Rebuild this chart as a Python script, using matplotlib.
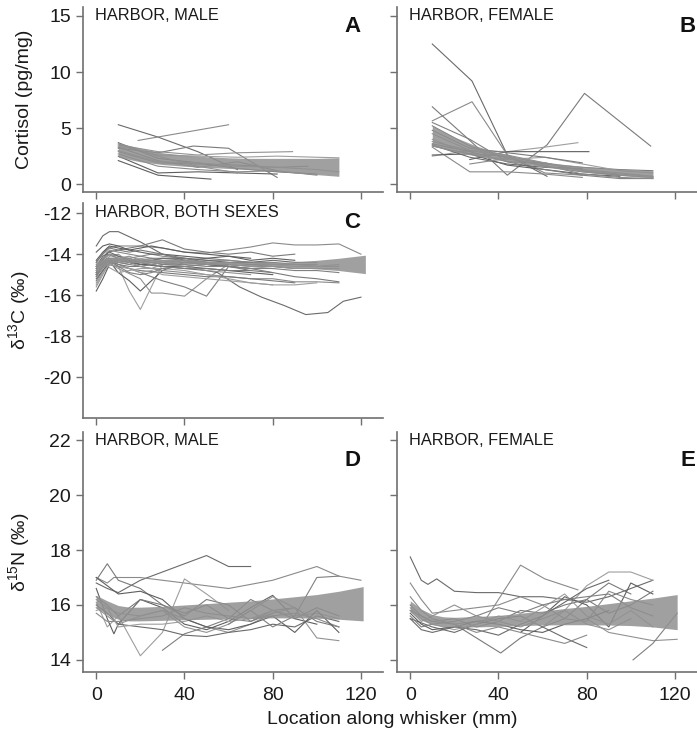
import matplotlib
matplotlib.use('Agg')
import matplotlib.pyplot as plt

plt.rcParams['font.family'] = ['Liberation Sans', 'DejaVu Sans']
plt.rcParams['mathtext.fontset'] = 'custom'
plt.rcParams['mathtext.rm'] = 'Liberation Sans'
plt.rcParams['axes.unicode_minus'] = False

# ---- panel A: cortisol, harbor males (one line per whisker)
a_lines = [
    ([10, 28, 46, 64], [5.3, 4.2, 2.9, 1.3]),
    ([19, 60], [3.9, 5.3]),
    ([10, 28, 44, 60, 82], [3.2, 2.8, 3.4, 3.2, 0.6]),
    ([10, 28, 46, 64, 82, 100, 110], [3.4, 2.6, 2.5, 2.4, 2.5, 2.4, 2.35]),
    ([10, 28, 52], [2.1, 0.8, 0.45]),
    ([10, 28, 46, 64, 89], [3.5, 2.9, 2.6, 2.8, 2.9]),
    ([10, 28, 46, 64, 82, 96], [2.9, 1.9, 1.8, 1.7, 1.5, 1.6]),
    ([10, 28, 46, 64, 82, 100], [3.7, 2.3, 1.9, 1.4, 1.1, 0.9]),
    ([10, 28, 46, 64, 82, 100], [2.7, 1.6, 1.3, 1.1, 1.2, 0.8]),
    ([10, 28, 46, 64, 82], [3.3, 2.1, 1.5, 2.0, 1.2]),
    ([10, 28, 46, 64, 82, 100, 110], [3.0, 2.0, 1.9, 1.6, 1.5, 1.3, 1.1]),
    ([10, 28, 46, 64, 82], [2.5, 1.0, 1.1, 1.0, 0.9]),
    ([10, 28, 46, 64], [3.6, 2.5, 1.6, 1.0]),
]
a_band_x = [10, 20, 30, 40, 50, 60, 70, 80, 90, 100, 110]
a_band_hi = [3.7, 3.2, 2.8, 2.6, 2.45, 2.35, 2.3, 2.3, 2.3, 2.3, 2.35]
a_band_lo = [2.4, 2.0, 1.75, 1.6, 1.5, 1.4, 1.3, 1.15, 1.0, 0.85, 0.7]

# ---- panel B: cortisol, harbor females
b_lines = [
    ([10, 28, 44, 62], [12.5, 9.2, 2.6, 0.7]),
    ([10, 28, 44, 61, 78], [5.65, 7.35, 2.6, 1.0, 0.8]),
    ([10, 27, 44, 62, 79, 109], [6.9, 3.9, 0.8, 3.5, 8.1, 3.4]),
    ([10, 27, 44, 61, 76], [2.5, 3.0, 2.9, 3.3, 3.7]),
    ([27, 44, 61, 81], [2.2, 2.9, 2.9, 2.9]),
    ([10, 27, 44, 61, 78, 95, 110], [4.5, 3.0, 2.4, 1.6, 1.3, 1.0, 0.7]),
    ([10, 27, 44, 61, 78, 95, 110], [5.2, 3.4, 2.3, 1.6, 1.1, 0.8, 0.6]),
    ([10, 27, 44, 61, 78, 95], [3.6, 2.9, 2.0, 1.9, 1.2, 0.8]),
    ([10, 27, 44, 61, 78], [3.3, 1.1, 1.1, 0.9, 0.6]),
    ([10, 27, 44, 61, 78, 95, 110], [3.4, 2.7, 2.5, 1.8, 1.5, 1.3, 1.2]),
    ([10, 27, 44, 61, 78, 95, 110], [4.0, 2.7, 2.2, 2.4, 1.8, 1.2, 1.0]),
    ([10, 27, 44, 61, 78, 95], [2.6, 2.7, 1.7, 1.3, 0.9, 0.7]),
    ([10, 27, 44, 61, 78, 95, 110], [3.8, 3.0, 2.6, 1.9, 1.2, 0.9, 0.7]),
    ([10, 27, 44, 61, 78, 95, 110], [5.5, 4.0, 2.0, 1.3, 0.8, 0.5, 0.5]),
    ([10, 27, 44, 61, 78], [3.5, 2.4, 1.8, 1.5, 1.4]),
    ([27, 44, 61, 78, 95, 110], [1.8, 2.3, 1.7, 0.9, 0.6, 0.5]),
    ([10, 27, 44, 61, 78], [4.8, 3.2, 2.8, 2.4, 1.9]),
]
b_band_x = [10, 20, 30, 40, 50, 60, 70, 80, 90, 100, 110]
b_band_hi = [5.2, 4.2, 3.4, 2.8, 2.35, 2.0, 1.75, 1.55, 1.4, 1.3, 1.2]
b_band_lo = [3.4, 2.9, 2.5, 2.15, 1.85, 1.55, 1.3, 1.05, 0.85, 0.7, 0.55]

# ---- panel C: d13C, harbor, both sexes
c_x = [0, 3, 6, 10, 15, 20, 25, 30, 40, 50, 60, 70, 80, 90, 100, 110]
c_lines = [
    ([0, 3, 6, 10, 20, 30, 40, 50, 60], [-13.6, -13.1, -12.9, -12.9, -13.4, -14.0, -14.3, -14.5, -14.6]),
    ([0, 5, 10, 20, 30, 40, 50, 60, 70, 80, 90, 100, 110, 120],
     [-14.4, -13.7, -13.6, -13.6, -13.7, -13.9, -13.95, -13.8, -13.65, -13.45, -13.55, -13.55, -13.5, -14.0]),
    ([0, 5, 10, 20, 30, 40, 50, 60, 70, 80, 90],
     [-14.8, -13.9, -13.8, -13.6, -13.3, -13.75, -13.9, -14.0, -13.9, -14.1, -14.0]),
    ([0, 5, 10, 15, 20, 25, 30, 40, 50, 60, 70, 80],
     [-15.0, -14.3, -14.6, -15.8, -16.7, -15.6, -14.5, -14.3, -14.4, -14.5, -14.6, -14.7]),
    ([0, 5, 10, 15, 20, 30, 40, 50, 60, 70], [-14.7, -14.2, -14.9, -15.3, -15.8, -14.8, -14.4, -14.5, -14.6, -14.7]),
    ([0, 5, 10, 20, 25, 30, 40, 50, 60], [-15.0, -14.4, -14.7, -15.2, -15.9, -15.9, -16.05, -15.2, -14.5]),
    ([0, 5, 10, 20, 30, 40, 50, 60, 70, 80], [-14.9, -14.3, -14.5, -14.9, -15.3, -15.6, -16.05, -14.6, -14.7, -14.9]),
    ([0, 5, 10, 20, 30, 40, 50, 55, 65, 75, 85, 95, 105, 112, 120],
     [-14.6, -14.0, -14.2, -14.5, -14.6, -14.7, -14.8, -14.9, -15.6, -16.1, -16.5, -16.95, -16.85, -16.3, -16.1]),
    ([0, 5, 10, 20, 30, 40, 50, 60, 70, 80, 90, 100, 110],
     [-14.9, -14.2, -14.4, -14.6, -14.8, -14.9, -15.0, -15.1, -15.2, -15.2, -15.35, -15.35, -15.4]),
    ([0, 5, 10, 20, 30, 40, 50, 60, 70, 80, 90],
     [-15.3, -14.5, -14.6, -14.8, -14.9, -15.0, -15.1, -15.1, -15.2, -15.3, -15.4]),
    ([0, 5, 10, 20, 30, 40, 50, 60, 70, 80, 90, 100],
     [-15.6, -14.6, -14.9, -14.7, -14.7, -14.8, -15.0, -15.2, -15.4, -15.5, -15.5, -15.4]),
    (c_x[:13], [-15.8, -15.2, -14.5, -14.3, -14.4, -14.5, -14.5, -14.6, -14.6, -14.7, -14.8, -14.9, -15.0]),
    (c_x, [-15.0, -14.6, -14.2, -14.2, -14.3, -14.3, -14.2, -14.3, -14.3, -14.4, -14.4, -14.5, -14.5, -14.5, -14.6, -14.6]),
    (c_x[:15], [-14.7, -14.3, -14.0, -14.1, -14.2, -14.1, -14.2, -14.2, -14.3, -14.2, -14.3, -14.4, -14.4, -14.5, -14.5]),
    (c_x[:14], [-15.2, -14.8, -14.4, -14.3, -14.4, -14.5, -14.4, -14.5, -14.4, -14.5, -14.6, -14.5, -14.6, -14.7]),
    (c_x[:13], [-14.5, -14.2, -13.8, -13.9, -14.0, -14.1, -14.0, -14.1, -14.2, -14.3, -14.3, -14.4, -14.5]),
    (c_x[:12], [-14.9, -14.4, -14.3, -14.5, -14.6, -14.6, -14.5, -14.6, -14.7, -14.7, -14.8, -14.8]),
    (c_x, [-15.4, -14.9, -14.5, -14.2, -14.3, -14.2, -14.3, -14.4, -14.3, -14.4, -14.5, -14.4, -14.5, -14.6, -14.6, -14.5]),
    (c_x[:14], [-14.3, -13.9, -13.6, -13.7, -13.8, -13.9, -14.0, -14.0, -14.1, -14.2, -14.1, -14.3, -14.2, -14.3]),
    (c_x[:12], [-14.8, -14.5, -14.1, -14.0, -14.4, -14.6, -14.7, -14.5, -14.6, -14.8, -14.9, -15.0]),
    (c_x, [-15.0, -14.6, -14.3, -14.4, -14.5, -14.3, -14.4, -14.5, -14.5, -14.6, -14.6, -14.7, -14.7, -14.8, -14.8, -14.9]),
    (c_x[:15], [-14.6, -14.1, -13.9, -14.1, -14.3, -14.4, -14.3, -14.2, -14.2, -14.3, -14.4, -14.4, -14.3, -14.4, -14.4]),
    (c_x[:10], [-15.1, -14.7, -14.2, -14.3, -14.2, -14.4, -14.5, -14.4, -14.3, -14.5]),
    (c_x, [-14.4, -14.0, -13.7, -13.8, -13.9, -13.8, -13.9, -14.0, -14.2, -14.4, -14.6, -14.8, -14.9, -15.1, -15.2, -15.35]),
    (c_x[:13], [-15.5, -14.9, -14.5, -14.6, -14.7, -14.9, -14.8, -15.0, -15.1, -15.2, -15.3, -15.4, -15.5]),
    (c_x[:12], [-13.9, -13.6, -13.5, -13.6, -13.8, -13.7, -13.6, -13.7, -13.9, -14.0, -14.1, -14.2]),
    (c_x, [-14.6, -14.2, -14.0, -14.2, -14.1, -14.3, -14.3, -14.4, -14.6, -14.5, -14.5, -14.6, -14.6, -14.7, -14.7, -14.7]),
    (c_x[:11], [-15.1, -14.5, -14.3, -14.6, -14.9, -15.0, -14.9, -14.7, -14.6, -14.5, -14.5]),
]
c_band_x = [0, 3, 6, 10, 15, 20, 30, 40, 50, 60, 70, 80, 90, 100, 110, 122]
c_band_hi = [-14.4, -14.25, -14.15, -14.15, -14.2, -14.22, -14.26, -14.3, -14.33, -14.36, -14.38, -14.4, -14.38, -14.3, -14.2, -14.05]
c_band_lo = [-14.9, -14.65, -14.45, -14.4, -14.4, -14.42, -14.44, -14.47, -14.5, -14.53, -14.57, -14.6, -14.65, -14.72, -14.8, -14.95]

# ---- panel D: d15N, harbor males
d_x = [0, 5, 10, 20, 30, 40, 50, 60, 70, 80, 90, 100, 110]
d_lines = [
    ([0, 5, 10, 20, 30, 40, 50, 60, 70], [16.8, 16.6, 16.45, 16.9, 17.2, 17.5, 17.8, 17.4, 17.4]),
    ([0, 5, 8, 20, 40, 60, 80, 90, 100, 110, 120], [17.0, 16.8, 17.0, 17.0, 16.8, 16.6, 16.9, 17.15, 17.4, 17.05, 16.9]),
    (d_x, [16.9, 17.5, 16.9, 16.6, 16.0, 15.6, 16.2, 16.0, 15.4, 15.8, 15.9, 15.4, 15.2]),
    ([0, 5, 10, 20, 30, 40, 50, 60], [16.1, 15.2, 15.6, 14.15, 15.0, 16.95, 16.4, 15.8]),
    ([0, 5, 8, 10, 20, 30, 40, 50, 60, 70, 80, 90, 100],
     [16.6, 15.5, 14.95, 15.3, 16.2, 15.9, 15.3, 15.1, 15.4, 15.9, 16.35, 15.5, 15.3]),
    ([0, 10, 20, 30, 40, 50, 60, 70, 80, 90, 100, 110], [15.9, 15.3, 15.6, 15.8, 15.5, 15.2, 15.0, 15.3, 15.7, 15.9, 14.8, 14.7]),
    ([30, 40, 50, 60, 70, 80], [14.35, 14.95, 15.2, 15.5, 15.4, 15.7]),
    (d_x, [16.0, 15.7, 15.3, 15.2, 15.1, 14.9, 14.85, 15.0, 15.1, 15.3, 15.2, 15.6, 15.4]),
    (d_x, [15.7, 15.4, 15.4, 15.5, 15.6, 15.9, 15.7, 15.6, 15.5, 15.6, 15.7, 15.5, 15.2]),
    (d_x, [16.3, 16.0, 15.6, 16.2, 16.0, 15.7, 16.0, 15.5, 16.2, 15.8, 15.5, 15.9, 15.6]),
    (d_x, [15.8, 15.9, 15.2, 15.3, 15.3, 15.4, 15.6, 15.4, 15.5, 15.8, 15.6, 15.7, 15.5]),
    (d_x, [17.0, 16.7, 16.4, 16.5, 16.2, 15.5, 15.2, 15.1, 15.3, 15.6, 15.0, 15.8, 15.0]),
    (d_x[:11], [16.2, 15.9, 15.7, 15.6, 15.8, 15.2, 15.0, 15.3, 15.8, 16.3, 15.9]),
    ([60, 70, 80, 90, 100, 110], [15.3, 15.8, 15.2, 15.6, 17.0, 17.05]),
]
d_band_x = [0, 5, 10, 15, 20, 30, 40, 50, 60, 70, 80, 90, 100, 110, 121]
d_band_hi = [16.35, 16.15, 15.98, 15.92, 15.92, 15.95, 16.0, 16.05, 16.1, 16.15, 16.22, 16.3, 16.38, 16.5, 16.67]
d_band_lo = [15.9, 15.65, 15.48, 15.42, 15.42, 15.44, 15.46, 15.48, 15.5, 15.52, 15.53, 15.53, 15.52, 15.48, 15.42]

# ---- panel E: d15N, harbor females
e_x = [0, 5, 10, 20, 30, 40, 50, 60, 70, 80, 90, 100, 110]
e_lines = [
    ([0, 5, 8, 12, 20, 30, 40, 50, 60, 70, 80, 90, 100, 110],
     [17.75, 16.9, 16.75, 16.95, 16.5, 16.45, 16.45, 16.3, 16.3, 16.2, 16.1, 16.3, 16.6, 16.9]),
    ([20, 34, 50, 61, 76], [15.3, 15.45, 17.45, 16.95, 16.55]),
    ([0, 10, 20, 30, 41, 50, 60, 70, 80, 90, 100], [15.8, 15.4, 15.3, 14.8, 14.25, 14.8, 15.2, 15.5, 16.2, 16.8, 16.4]),
    ([60, 70, 80, 90, 100, 110], [15.2, 15.8, 16.7, 17.2, 17.2, 16.9]),
    ([50, 60, 70, 80, 90, 100, 110], [15.0, 15.6, 16.3, 16.0, 15.2, 16.8, 16.4]),
    ([80, 90, 100, 110, 121], [15.5, 15.0, 14.85, 14.7, 14.75]),
    ([101, 110, 121], [14.0, 14.6, 15.7]),
    ([0, 10, 20, 30, 40, 50, 60, 70, 80], [15.5, 15.2, 15.0, 15.3, 15.5, 15.6, 15.2, 14.8, 14.45]),
    (e_x, [16.8, 16.2, 15.7, 15.8, 15.9, 16.0, 16.3, 16.0, 15.5, 15.4, 16.5, 16.2, 16.0]),
    (e_x, [16.0, 15.6, 15.4, 15.5, 15.2, 15.4, 15.8, 15.7, 16.0, 16.2, 15.7, 16.0, 16.5]),
    (e_x, [15.9, 15.5, 15.3, 15.1, 15.3, 15.6, 15.4, 15.9, 16.4, 15.6, 15.3, 15.8, 15.2]),
    (e_x[:11], [15.7, 15.3, 15.1, 15.2, 15.4, 15.3, 15.1, 15.0, 15.3, 15.5, 15.8]),
    (e_x[:12], [15.8, 15.4, 15.6, 16.0, 15.6, 15.4, 15.2, 15.5, 15.8, 15.3, 15.1, 15.5]),
    (e_x, [15.6, 15.2, 15.3, 15.4, 15.6, 15.9, 15.7, 16.0, 16.2, 16.3, 16.4, 15.9, 15.6]),
    (e_x[:11], [15.5, 15.1, 15.0, 15.2, 15.1, 14.9, 15.3, 15.6, 16.1, 16.6, 16.9]),
    (e_x[:10], [16.3, 15.8, 15.5, 15.3, 15.0, 15.2, 15.0, 14.8, 14.6, 14.9]),
]
e_band_x = [0, 5, 10, 15, 20, 30, 40, 50, 60, 70, 80, 90, 100, 110, 121]
e_band_hi = [16.15, 15.85, 15.65, 15.57, 15.55, 15.58, 15.62, 15.7, 15.78, 15.87, 15.95, 16.05, 16.15, 16.25, 16.38]
e_band_lo = [15.75, 15.45, 15.28, 15.22, 15.2, 15.2, 15.22, 15.25, 15.27, 15.28, 15.28, 15.27, 15.25, 15.2, 15.1]

greys = ['#6a6a6a', '#8a8a8a', '#7a7a7a', '#9e9e9e', '#5e5e5e', '#929292', '#808080']
spine_col = '#707070'

fig = plt.figure(figsize=(6.97, 7.32), dpi=100)
W = 0.4304
axA = fig.add_axes([0.1191, 0.7377, W, 0.2527])
axB = fig.add_axes([0.5696, 0.7377, W, 0.2527])
axC = fig.add_axes([0.1191, 0.4290, W, 0.2937])
axD = fig.add_axes([0.1191, 0.0820, W, 0.3279])
axE = fig.add_axes([0.5696, 0.0820, W, 0.3279])


def draw(ax, lines, bx, blo, bhi):
    for i, (x, y) in enumerate(lines):
        ax.plot(x, y, color=greys[i % len(greys)], lw=0.8, zorder=2)
    ax.fill_between(bx, blo, bhi, color='#909090', lw=0, alpha=0.85, zorder=3)


def style(ax, ylim, yticks, ylabels, xlabels):
    ax.set_xlim(-6, 130)
    ax.set_ylim(*ylim)
    ax.set_xticks([0, 40, 80, 120])
    ax.set_yticks(yticks)
    for s in ['top', 'right']:
        ax.spines[s].set_visible(False)
    for s in ['left', 'bottom']:
        ax.spines[s].set_color(spine_col)
        ax.spines[s].set_linewidth(1.2)
    ax.tick_params(direction='out', length=5, width=1, color=spine_col,
                   labelsize=14, labelcolor='#1a1a1a')
    ax.tick_params(axis='x', pad=6)
    if not ylabels:
        ax.set_yticklabels([])
    if not xlabels:
        ax.set_xticklabels([])


draw(axA, a_lines, a_band_x, a_band_lo, a_band_hi)
draw(axB, b_lines, b_band_x, b_band_lo, b_band_hi)
draw(axC, c_lines, c_band_x, c_band_lo, c_band_hi)
draw(axD, d_lines, d_band_x, d_band_lo, d_band_hi)
draw(axE, e_lines, e_band_x, e_band_lo, e_band_hi)

style(axA, (-0.7, 15.8), [0, 5, 10, 15], True, False)
style(axB, (-0.7, 15.8), [0, 5, 10, 15], False, False)
style(axC, (-22, -11.5), [-20, -18, -16, -14, -12], True, False)
style(axD, (13.56, 22.3), [14, 16, 18, 20, 22], True, True)
style(axE, (13.56, 22.3), [14, 16, 18, 20, 22], False, True)

# panel titles and letters
tkw = dict(fontsize=11.8, color='#1a1a1a', va='center', ha='left')
axA.text(0.04, 0.955, 'HARBOR, MALE', transform=axA.transAxes, **tkw)
axB.text(0.04, 0.955, 'HARBOR, FEMALE', transform=axB.transAxes, **tkw)
axC.text(0.04, 0.955, 'HARBOR, BOTH SEXES', transform=axC.transAxes, **tkw)
axD.text(0.04, 0.965, 'HARBOR, MALE', transform=axD.transAxes, **tkw)
axE.text(0.04, 0.965, 'HARBOR, FEMALE', transform=axE.transAxes, **tkw)

lkw = dict(fontsize=16, fontweight='bold', color='#111111', va='center', ha='center')
axA.text(0.897, 0.897, 'A', transform=axA.transAxes, **lkw)
axB.text(0.97, 0.897, 'B', transform=axB.transAxes, **lkw)
axC.text(0.897, 0.907, 'C', transform=axC.transAxes, **lkw)
axD.text(0.897, 0.883, 'D', transform=axD.transAxes, **lkw)
axE.text(0.97, 0.883, 'E', transform=axE.transAxes, **lkw)

axA.set_ylabel('Cortisol (pg/mg)', fontsize=14, color='#1a1a1a')
axC.set_ylabel('δ$^{13}$C (‰)', fontsize=14, color='#1a1a1a')
axD.set_ylabel('δ$^{15}$N (‰)', fontsize=14, color='#1a1a1a')
for ax in (axA, axC, axD):
    ax.yaxis.set_label_coords(-0.167, 0.5)

fig.text(0.563, 0.0164, 'Location along whisker (mm)', fontsize=14, color='#1a1a1a',
         ha='center', va='center')

fig.savefig('out.png', dpi=100)
